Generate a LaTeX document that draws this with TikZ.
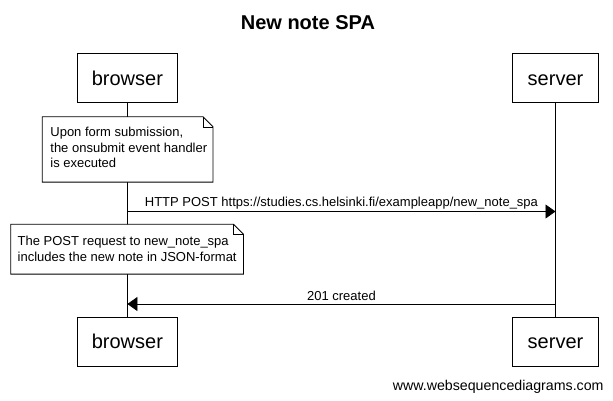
\documentclass[tikz,border=0pt]{standalone}
\usepackage{fontspec}
\setmainfont{Liberation Sans}
\usetikzlibrary{arrows.meta}
\begin{document}
\begin{tikzpicture}[x=1pt,y=-1pt,line width=0.8pt,
  actor/.style={draw,fill=white,minimum height=49pt,inner sep=0pt,text height=14.4pt,text depth=0pt,font=\fontsize{20}{24}\selectfont},
  notebg/.style={draw=none,inner sep=0pt,anchor=north west},
  noteline/.style={draw,fill=white,line width=0.8pt},
  notetext/.style={inner sep=0pt,align=left,anchor=base west,font=\fontsize{13}{15.5}\selectfont},
  msg/.style={-{Triangle[length=10pt,width=14pt]}},
  lbl/.style={inner sep=0pt,anchor=base,font=\fontsize{13}{15}\selectfont},
  titletext/.style={inner sep=0pt,anchor=base,font=\fontsize{20}{24}\selectfont\bfseries},
  foot/.style={inner sep=0pt,anchor=base east,font=\fontsize{14.2}{16}\selectfont}]
\useasboundingbox[fill=white] (0,0) rectangle (613,400);

% title
\node[titletext] (title) at (307.9,29.3) {New note SPA};

% actors
\node[actor,minimum width=99.3pt] (bt) at (127.4,78) {browser};
\node[actor,minimum width=86pt] (st) at (555.5,78) {server};
\node[actor,minimum width=99.3pt] (bb) at (127.4,341.5) {browser};
\node[actor,minimum width=86pt] (sb) at (555.5,341.5) {server};

% lifelines
\draw (bt.south) -- (bb.north);
\draw (st.south) -- (sb.north);

% note 1
\node[notebg,minimum width=170pt,minimum height=64.5pt] (n1) at (42.2,116.8) {};
\draw[noteline] (n1.north west) -- ([xshift=-10pt]n1.north east) -- ([yshift=-10pt]n1.north east) -- (n1.south east) -- (n1.south west) -- cycle;
\draw[line width=0.6pt] ([xshift=-10pt]n1.north east) -- ([xshift=-10pt,yshift=-10pt]n1.north east) -- ([yshift=-10pt]n1.north east);
\node[notetext] (n1t) at (50,167.8) {Upon form submission,\\the onsubmit event handler\\is executed};

% message 1
\coordinate (yA) at (0,211.5);
\coordinate (bA) at (bt.south |- yA);
\coordinate (sA) at (st.south |- yA);
\draw[msg] (bA) -- (sA) node[lbl,midway,yshift=4.8pt] (l1) {HTTP POST https://studies.cs.helsinki.fi/exampleapp/new\_note\_spa};

% note 2
\node[notebg,minimum width=232pt,minimum height=49pt] (n2) at (10.7,224.3) {};
\draw[noteline] (n2.north west) -- ([xshift=-10pt]n2.north east) -- ([yshift=-10pt]n2.north east) -- (n2.south east) -- (n2.south west) -- cycle;
\draw[line width=0.6pt] ([xshift=-10pt]n2.north east) -- ([xshift=-10pt,yshift=-10pt]n2.north east) -- ([yshift=-10pt]n2.north east);
\node[notetext] (n2t) at (17.3,261.2) {The POST request to new\_note\_spa\\includes the new note in JSON-format};

% message 2
\coordinate (yB) at (0,304);
\coordinate (sB) at (st.south |- yB);
\coordinate (bB) at (bt.south |- yB);
\draw[msg] (sB) -- (bB) node[lbl,midway,yshift=4pt] (l2) {201 created};

% footer
\node[foot] (ft) at (604,390) {www.websequencediagrams.com};
\end{tikzpicture}
\end{document}
